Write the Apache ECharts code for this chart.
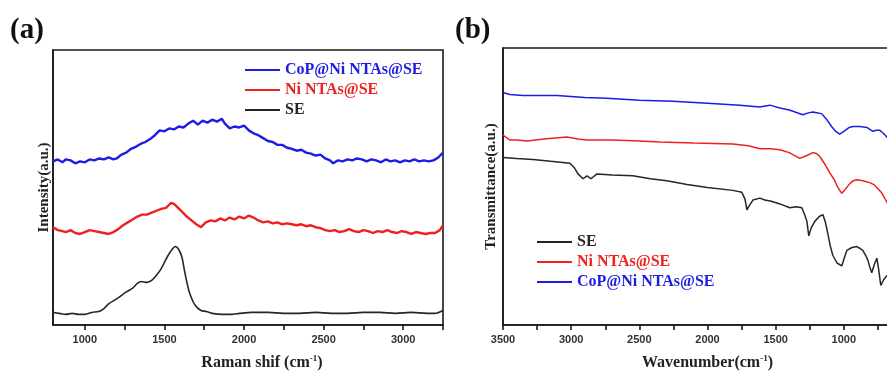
<!DOCTYPE html>
<html>
<head>
<meta charset="utf-8">
<script src="https://cdn.jsdelivr.net/npm/echarts@6/dist/echarts.min.js"></script>
<style>
  html, body { margin: 0; padding: 0; background: #fff; overflow: hidden; }
  #chart { width: 940px; height: 376px; }
</style>
</head>
<body>
<div id="chart"></div>
<script>
// Raman spectra, panel (a): [shift cm-1, intensity a.u.]
const ramanCoP = [
  [800,169],[830,171],[860,168],[880,171],[910,170],[940,167],[970,169],[1000,168],[1030,171],[1060,170],
  [1090,172],[1120,171],[1150,173],[1180,171],[1200,172],[1230,176],[1260,178],[1290,182],[1320,184],[1350,187],
  [1380,189],[1410,192],[1440,196],[1470,201],[1500,200],[1530,203],[1560,202],[1590,205],[1620,204],[1650,208],
  [1680,211],[1710,207],[1740,211],[1770,209],[1800,212],[1830,210],[1860,213],[1880,208],[1910,203],[1940,205],
  [1970,204],[2000,206],[2030,201],[2060,198],[2090,196],[2120,193],[2150,190],[2180,189],[2210,186],[2240,186],
  [2270,183],[2300,182],[2330,180],[2360,181],[2390,178],[2420,177],[2450,175],[2480,176],[2510,172],[2540,170],
  [2560,167],[2590,170],[2620,169],[2650,171],[2680,170],[2710,172],[2740,171],[2770,169],[2800,171],[2830,170],
  [2860,168],[2890,171],[2920,169],[2950,170],[2980,168],[3010,170],[3040,169],[3070,171],[3100,169],[3130,170],
  [3160,169],[3190,170],[3220,173],[3250,178]
];
const ramanNi = [
  [800,101],[830,98],[860,97],[880,96],[910,98],[940,95],[970,94],[1000,96],[1030,98],[1060,97],
  [1090,96],[1120,95],[1150,94],[1180,96],[1210,99],[1240,103],[1270,106],[1300,109],[1330,112],[1360,114],
  [1390,114],[1420,116],[1450,118],[1480,120],[1510,121],[1540,126],[1560,125],[1580,122],[1610,117],[1640,112],
  [1670,108],[1700,104],[1730,101],[1760,106],[1790,108],[1820,107],[1850,110],[1880,108],[1910,111],[1940,109],
  [1970,112],[2000,110],[2030,113],[2060,111],[2090,108],[2120,106],[2150,107],[2180,105],[2210,106],[2240,104],
  [2270,105],[2300,104],[2330,103],[2360,104],[2390,102],[2420,103],[2450,101],[2480,100],[2510,98],[2540,97],
  [2570,98],[2600,96],[2630,97],[2660,99],[2690,97],[2720,96],[2750,98],[2780,97],[2810,95],[2840,97],
  [2870,96],[2900,98],[2930,96],[2960,95],[2990,97],[3020,96],[3050,94],[3080,96],[3110,95],[3140,94],
  [3170,95],[3200,95],[3230,98],[3250,103]
];
const ramanSE = [
  [800,13],[840,12],[880,11],[920,12],[960,11],[1000,11],[1044,13],[1088,14],[1120,17],[1151,22],
  [1200,27],[1259,34],[1300,38],[1330,43],[1353,45],[1391,44],[1420,46],[1448,51],[1475,57],[1498,64],
  [1520,71],[1543,77],[1568,81],[1590,78],[1610,70],[1625,57],[1640,45],[1656,34],[1680,24],[1700,19],
  [1730,15],[1763,14],[1800,12],[1864,11],[1920,11],[1972,12],[2050,13],[2150,13],[2250,12],[2350,12],
  [2450,13],[2550,12],[2650,12],[2750,13],[2850,13],[2950,12],[3050,13],[3150,12],[3200,12],[3250,15]
];

// FTIR spectra, panel (b): [wavenumber cm-1, transmittance a.u.]
const ftirSE = [
  [3500,173],[3400,172],[3280,171],[3150,169],[3009,167],[2975,162],[2950,156],[2913,151],[2884,154],[2855,151],
  [2811,156],[2700,155],[2547,154],[2420,151],[2298,149],[2150,145],[2000,142],[1814,139],[1748,137],[1725,130],
  [1711,119],[1690,124],[1667,129],[1616,131],[1580,129],[1540,128],[1491,126],[1450,124],[1396,121],[1350,122],
  [1308,121],[1285,113],[1271,107],[1257,92],[1240,100],[1213,107],[1180,112],[1154,114],[1135,106],[1117,94],
  [1100,82],[1081,72],[1050,64],[1015,61],[995,70],[978,77],[940,80],[905,81],[880,79],[861,77],
  [840,72],[824,67],[810,60],[795,54],[775,63],[758,69],[745,58],[729,41],[707,47],[685,51],
  [660,48],[640,45]
];
const ftirNi = [
  [3500,196],[3449,191],[3400,191],[3324,190],[3200,192],[3031,194],[2950,192],[2884,191],[2700,191],[2500,190],
  [2349,189],[2100,188],[1814,187],[1700,185],[1616,182],[1540,182],[1469,181],[1400,178],[1323,172],[1270,175],
  [1227,178],[1200,177],[1176,174],[1139,166],[1103,157],[1070,150],[1051,144],[1030,139],[1015,136],[990,140],
  [956,146],[930,149],[905,150],[860,149],[810,147],[780,145],[751,141],[720,136],[685,127],[650,118]
];
const ftirCoP = [
  [3500,240],[3450,238],[3353,237],[3250,237],[3104,237],[2900,235],[2738,234],[2500,232],[2254,231],[2000,229],
  [1763,227],[1616,225],[1543,227],[1469,224],[1400,222],[1301,217],[1260,219],[1227,220],[1190,219],[1161,218],
  [1125,212],[1090,205],[1060,200],[1030,197],[1000,200],[960,204],[934,205],[880,205],[831,204],[787,200],
  [760,201],[736,201],[710,198],[685,194],[650,190]
];

const ramanTicks = [1000, 1250, 1500, 1750, 2000, 2250, 2500, 2750, 3000, 3250];
const ramanLabels = [1000, 1500, 2000, 2500, 3000];
const ftirTicks = [3500, 3250, 3000, 2750, 2500, 2250, 2000, 1750, 1500, 1250, 1000, 750, 500];
const ftirLabels = [3500, 3000, 2500, 2000, 1500, 1000, 500];

const NAME_COP = 'CoP@Ni NTAs@SE';
const NAME_NI = 'Ni NTAs@SE';
const NAME_SE = 'SE';
const BLUE = '#1c1ce6';
const RED = '#ee2020';
const BLACK = '#262626';
const SERIF = '"Liberation Serif", "Times New Roman", serif';
const SANS = '"Liberation Sans", Arial, sans-serif';

const chart = echarts.init(document.getElementById('chart'));

const frame = { color: '#1a1a1a', width: 1.6 };

const nameRich = {
  t: { fontFamily: SERIF, fontWeight: 'bold', fontSize: 16, color: '#222' },
  s: { fontFamily: SERIF, fontWeight: 'bold', fontSize: 9, color: '#222', padding: [0, 0, 9, 0] },
};

function xAxisFor(gridIndex, opts, ticks, labels, namePad) {
  return Object.assign({
    type: 'value',
    gridIndex,
    nameLocation: 'middle',
    nameGap: 29,
    nameTextStyle: { padding: namePad, rich: nameRich },
    axisLine: { show: true, lineStyle: frame },
    axisTick: { show: true, inside: false, length: 5, lineStyle: frame, customValues: ticks },
    axisLabel: {
      margin: 9,
      fontFamily: SANS,
      fontWeight: 'bold',
      fontSize: 11,
      color: '#333',
      customValues: labels,
      formatter: (v) => String(v),
    },
    splitLine: { show: false },
  }, opts);
}

function yAxisFor(gridIndex, name, max, gap) {
  return {
    type: 'value',
    gridIndex,
    min: 0,
    max,
    name,
    nameLocation: 'middle',
    nameGap: gap,
    nameTextStyle: { fontFamily: SERIF, fontWeight: 'bold', fontSize: 15, color: '#222' },
    axisLine: { show: true, lineStyle: frame },
    axisTick: { show: false },
    axisLabel: { show: false },
    splitLine: { show: false },
  };
}

function legendItem(name, color) {
  return { name, textStyle: { color } };
}

const legendBase = {
  orient: 'vertical',
  padding: 0,
  icon: 'rect',
  itemWidth: 35,
  itemHeight: 2,
  itemGap: 4,
  selectedMode: false,
  textStyle: { fontFamily: SERIF, fontWeight: 'bold', fontSize: 16, lineHeight: 16 },
};

function line(name, data, color, xi, width, smooth) {
  return {
    name,
    type: 'line',
    xAxisIndex: xi,
    yAxisIndex: xi,
    data,
    showSymbol: false,
    symbol: 'none',
    smooth: smooth || false,
    lineStyle: { color, width },
    itemStyle: { color },
  };
}

chart.setOption({
  animation: false,
  backgroundColor: '#fff',
  title: [
    { text: '(a)', left: 10, top: 16, padding: 0,
      textStyle: { fontFamily: SERIF, fontWeight: 'bold', fontSize: 29, color: '#111' } },
    { text: '(b)', left: 455, top: 16, padding: 0,
      textStyle: { fontFamily: SERIF, fontWeight: 'bold', fontSize: 29, color: '#111' } },
  ],
  legend: [
    Object.assign({}, legendBase, {
      left: 245, top: 62,
      data: [legendItem(NAME_COP, BLUE), legendItem(NAME_NI, RED), legendItem(NAME_SE, BLACK)],
    }),
    Object.assign({}, legendBase, {
      left: 537, top: 234,
      data: [legendItem(NAME_SE, BLACK), legendItem(NAME_NI, RED), legendItem(NAME_COP, BLUE)],
    }),
  ],
  grid: [
    { left: 53, top: 50, width: 390, height: 284, show: true, borderColor: '#1a1a1a', borderWidth: 1.6 },
    { left: 503, top: 48, width: 409, height: 286, show: true, borderColor: '#1a1a1a', borderWidth: 1.6 },
  ],
  xAxis: [
    xAxisFor(0, { min: 800, max: 3250, name: '{t|Raman shif (cm}{s|-1}{t|)}' },
      ramanTicks, ramanLabels, [0, 0, 0, 28]),
    xAxisFor(1, { min: 500, max: 3500, inverse: true, name: '{t|Wavenumber(cm}{s|-1}{t|)}' },
      ftirTicks, ftirLabels, 0),
  ],
  yAxis: [
    yAxisFor(0, 'Intensity(a.u.)', 284, 1),
    yAxisFor(1, 'Transmittance(a.u.)', 286, 4),
  ],
  series: [
    line(NAME_COP, ramanCoP, BLUE, 0, 2.4),
    line(NAME_NI, ramanNi, RED, 0, 2.4),
    line(NAME_SE, ramanSE, BLACK, 0, 1.6, 0.3),
    line(NAME_SE, ftirSE, BLACK, 1, 1.5),
    line(NAME_NI, ftirNi, RED, 1, 1.5),
    line(NAME_COP, ftirCoP, BLUE, 1, 1.5),
  ],
});
</script>
</body>
</html>
